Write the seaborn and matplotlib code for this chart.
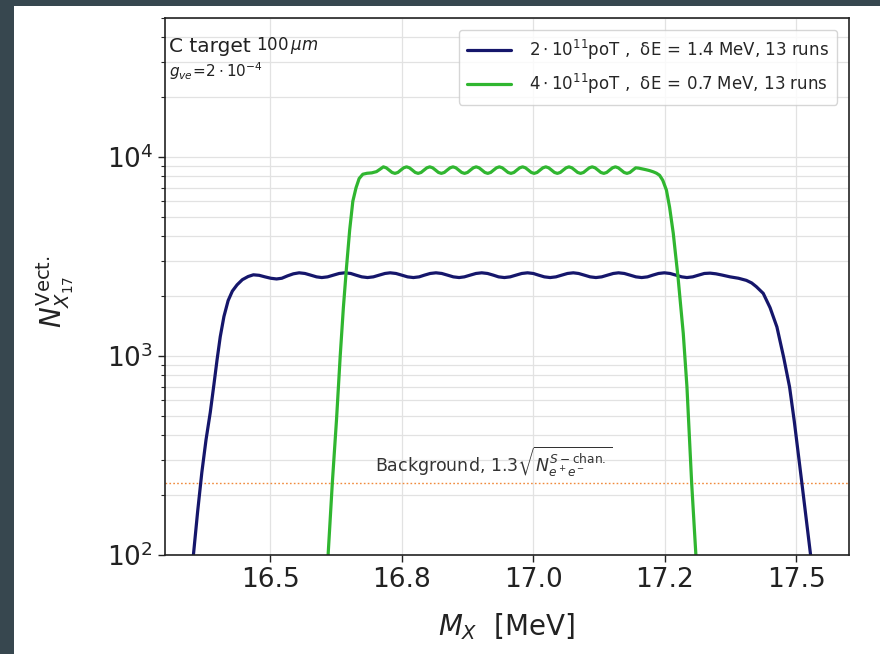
import matplotlib
matplotlib.use("Agg")
import matplotlib.pyplot as plt
import seaborn as sns
import pandas as pd
from matplotlib.patches import Rectangle
from matplotlib.ticker import FixedLocator, LogLocator, NullFormatter

# ---------------- data ----------------
mass_blue = [16.345, 16.354, 16.362, 16.370, 16.378, 16.386, 16.393, 16.399, 16.405, 16.412,
             16.420, 16.428, 16.437, 16.447, 16.458,
             16.468, 16.479, 16.490, 16.501, 16.512, 16.522, 16.533, 16.544,
             16.555, 16.566, 16.577, 16.588, 16.598, 16.609, 16.620, 16.631,
             16.642, 16.653, 16.663, 16.674, 16.685, 16.696, 16.707, 16.718,
             16.728, 16.739, 16.750, 16.761, 16.772, 16.783, 16.793, 16.804,
             16.815, 16.826, 16.837, 16.848, 16.859, 16.869, 16.880, 16.891,
             16.902, 16.913, 16.924, 16.934, 16.945, 16.956, 16.967, 16.978,
             16.989, 17.000, 17.010, 17.021, 17.032, 17.043, 17.054, 17.065,
             17.076, 17.086, 17.097, 17.108, 17.119, 17.130, 17.141, 17.152,
             17.162, 17.173, 17.184, 17.195, 17.206, 17.217, 17.227, 17.238,
             17.249, 17.260, 17.271, 17.282, 17.292, 17.303, 17.314, 17.325,
             17.336, 17.347, 17.358, 17.374, 17.390, 17.405, 17.415, 17.424, 17.437, 17.450,
             17.463, 17.476, 17.487, 17.496, 17.510, 17.527, 17.535]
count_blue = [60, 100, 165, 260, 380, 520, 720, 960, 1250, 1580,
              1900, 2120, 2280, 2420, 2510,
              2560, 2545, 2500, 2460, 2440, 2460, 2530, 2590,
              2620, 2600, 2550, 2500, 2480, 2500, 2550, 2600,
              2620, 2600, 2550, 2500, 2480, 2500, 2550, 2600,
              2620, 2600, 2550, 2500, 2480, 2500, 2550, 2600,
              2620, 2600, 2550, 2500, 2480, 2500, 2550, 2600,
              2620, 2600, 2550, 2500, 2480, 2500, 2550, 2600,
              2620, 2600, 2550, 2500, 2480, 2500, 2550, 2600,
              2620, 2600, 2550, 2500, 2480, 2500, 2550, 2600,
              2620, 2600, 2550, 2500, 2480, 2500, 2550, 2600,
              2620, 2600, 2550, 2500, 2480, 2500, 2550, 2600,
              2610, 2590, 2555, 2500, 2460, 2400, 2330, 2230, 2065, 1750,
              1400, 980, 700, 470, 235, 100, 60]

mass_green = [16.602, 16.610, 16.618, 16.626, 16.633, 16.639, 16.645, 16.651, 16.657, 16.663,
              16.669, 16.676, 16.684, 16.693, 16.702, 16.709,
              16.7150, 16.7205, 16.7260, 16.7315, 16.7370, 16.7426, 16.7481, 16.7536,
              16.7591, 16.7646, 16.7701, 16.7756, 16.7811, 16.7867, 16.7922, 16.7977,
              16.8032, 16.8087, 16.8142, 16.8197, 16.8252, 16.8308, 16.8363, 16.8418,
              16.8473, 16.8528, 16.8583, 16.8638, 16.8693, 16.8749, 16.8804, 16.8859,
              16.8914, 16.8969, 16.9024, 16.9079, 16.9134, 16.9190, 16.9245, 16.9300,
              16.9355, 16.9410, 16.9465, 16.9520, 16.9575, 16.9631, 16.9686, 16.9741,
              16.9796, 16.9851, 16.9906, 16.9961, 17.0016, 17.0072, 17.0127, 17.0182,
              17.0237, 17.0292, 17.0347, 17.0402, 17.0457, 17.0513, 17.0568, 17.0623,
              17.0678, 17.0733, 17.0788, 17.0843, 17.0898, 17.0954, 17.1009, 17.1064,
              17.1119, 17.1174, 17.1229, 17.1284, 17.1339, 17.1395, 17.1450, 17.1505,
              17.1560, 17.1615, 17.1670, 17.1725, 17.1780, 17.1836, 17.1891, 17.1946,
              17.2001, 17.207, 17.214, 17.221, 17.228, 17.234, 17.240, 17.246, 17.253, 17.259,
              17.266, 17.270, 17.275, 17.280, 17.285, 17.292, 17.301, 17.309, 17.315]
count_green = [55, 100, 230, 480, 1000, 1750, 2800, 4300, 6000, 7000,
               7800, 8200, 8290, 8330, 8450, 8700,
               8930, 8830, 8600, 8370, 8280, 8370, 8600, 8830,
               8930, 8830, 8600, 8370, 8280, 8370, 8600, 8830,
               8930, 8830, 8600, 8370, 8280, 8370, 8600, 8830,
               8930, 8830, 8600, 8370, 8280, 8370, 8600, 8830,
               8930, 8830, 8600, 8370, 8280, 8370, 8600, 8830,
               8930, 8830, 8600, 8370, 8280, 8370, 8600, 8830,
               8930, 8830, 8600, 8370, 8280, 8370, 8600, 8830,
               8930, 8830, 8600, 8370, 8280, 8370, 8600, 8830,
               8930, 8830, 8600, 8370, 8280, 8370, 8600, 8830,
               8930, 8830, 8600, 8370, 8280, 8370, 8600, 8830,
               8930, 8830, 8600, 8370, 8280, 8370, 8600, 8830,
               8800, 8720, 8640, 8550, 8430, 8300, 8100, 7650, 6820, 5600,
               4140, 3300, 2500, 1800, 1300, 700, 229, 100, 55]

background_level = 230

series_labels = [
    r"$2\cdot10^{11}$poT ,  δE$\,=\,$1.4 MeV, 13 runs",
    r"$4\cdot10^{11}$poT ,  δE$\,=\,$0.7 MeV, 13 runs",
]
series_colors = ["#15166b", "#30b630"]

x_ticks = [16.5, 16.75, 17.0, 17.25, 17.5]
x_tick_labels = ["16.5", "16.8", "17.0", "17.2", "17.5"]

# ---------------- figure ----------------
sns.set_style("ticks")
plt.rcParams["font.family"] = ["DejaVu Sans"]

W, H = 880, 654
fig = plt.figure(figsize=(W / 100, H / 100), dpi=100)
fig.patch.set_facecolor("#37474f")
fig.add_artist(Rectangle((14 / W, 0), 1 - 14 / W, 1 - 6 / H, transform=fig.transFigure,
                         facecolor="white", edgecolor="none", zorder=0))

ax = fig.add_axes([165 / W, 1 - 555 / H, (849 - 165) / W, (555 - 18) / H])
ax.set_facecolor("white")

df_blue = pd.DataFrame({"mass": mass_blue, "count": count_blue})
df_green = pd.DataFrame({"mass": mass_green, "count": count_green})
sns.lineplot(data=df_blue, x="mass", y="count", ax=ax, color=series_colors[0],
             lw=2.3, label=series_labels[0], estimator=None, sort=False,
             solid_joinstyle="round")
sns.lineplot(data=df_green, x="mass", y="count", ax=ax, color=series_colors[1],
             lw=2.3, label=series_labels[1], estimator=None, sort=False,
             solid_joinstyle="round")

ax.axhline(background_level, color="#f08a3c", lw=1.0, ls=(0, (1.2, 1.6)), zorder=1)

ax.set_yscale("log")
ax.set_xlim(16.3, 17.6)
ax.set_ylim(100, 5e4)

ax.xaxis.set_major_locator(FixedLocator(x_ticks))
ax.set_xticklabels(x_tick_labels)
ax.yaxis.set_major_locator(LogLocator(base=10, numticks=10))
ax.yaxis.set_minor_locator(LogLocator(base=10, subs=range(2, 10), numticks=20))
ax.yaxis.set_minor_formatter(NullFormatter())

ax.grid(True, which="major", axis="both", color="#e2e2e2", lw=0.9)
ax.grid(True, which="minor", axis="y", color="#e2e2e2", lw=0.9)
ax.set_axisbelow(True)

ax.tick_params(axis="both", which="major", labelsize=19, length=5, width=1.0, direction="out",
               colors="#222222")
ax.tick_params(axis="y", which="minor", length=3, width=0.8, direction="out")
for s in ax.spines.values():
    s.set_color("#222222")
    s.set_linewidth(1.2)

ax.set_xlabel(r"$M_X$  [MeV]", fontsize=20, color="#222222")
ax.set_ylabel(r"$N_{X_{17}}^{\mathrm{Vect.}}$", fontsize=20, color="#222222")
ax.xaxis.set_label_coords(0.5, -0.105)
ax.yaxis.set_label_coords(-0.13, 0.49)

leg = ax.legend(loc="upper right", fontsize=12, frameon=True, fancybox=True,
                borderaxespad=0.7, handlelength=2.6, labelspacing=0.6, borderpad=0.5,
                handletextpad=1.1)
leg.get_frame().set_edgecolor("#cccccc")
leg.get_frame().set_linewidth(1.0)

t1 = ax.text(0.006, 0.937, "C target", transform=ax.transAxes, fontsize=14.5,
             va="baseline", ha="left", color="#222222")
ax.annotate(r"$100\,\mu m$", xy=(1, 0), xycoords=t1, xytext=(4, 0),
            textcoords="offset points", fontsize=12, va="bottom", color="#222222")
ax.text(0.006, 0.89, r"$g_{ve}\!=\!2\cdot10^{-4}$", transform=ax.transAxes, fontsize=11,
        va="baseline", ha="left", color="#222222")

ax.text(16.70, 262, r"Background, $1.3\sqrt{N_{e^+e^-}^{S-\mathrm{chan.}}}$", fontsize=12.5,
        va="baseline", ha="left", color="#333333")

fig.savefig("out.png", dpi=100, facecolor=fig.get_facecolor())
